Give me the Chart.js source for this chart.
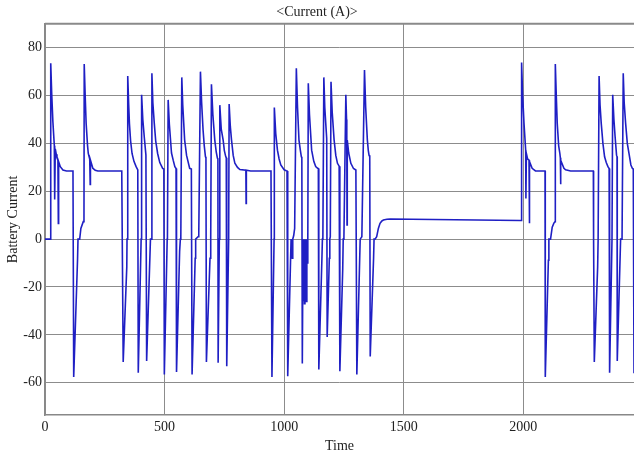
<!DOCTYPE html>
<html>
<head>
<meta charset="utf-8">
<script src="https://cdn.jsdelivr.net/npm/chart.js@4.4.1/dist/chart.umd.min.js"></script>
<style>
  html, body { margin: 0; padding: 0; background: #fff; }
  canvas { display: block; }
</style>
</head>
<body>
<canvas id="c" width="634" height="460"></canvas>
<script>
// ---- data ----
const chartTitle = '<Current (A)>';
const xTitle = 'Time';
const yTitle = 'Battery Current';
const xTicks = [0, 500, 1000, 1500, 2000];
const yTicks = [-60, -40, -20, 0, 20, 40, 60, 80];

// [time, current] samples
const batteryCurrent = [
  [0,0],[22,0],[24,73.5],[28,61],[33,49],[39,39],[40.5,16.6],[43,37.7],[47,35.5],[50,34],[54,33],[55.8,6.6],[57,32.4],[64,30.3],[75,28.9],[90,28.5],[117,28.5],
  [120,-57.6],[136,-8.8],[138,0],[145,0],[150,4.5],[160,7.3],[163,7.5],[164,73.2],[168,60],[172,48.4],[178,39],[181,35.8],[187,33.5],[189,22.9],[190,33],[200,29.6],[210,28.8],[221,28.5],[321,28.5],
  [323,1],[327,-51.3],[342,-11.6],[343,0],[346,68.2],[350,56],[353,48.4],[358,41],[364,35.8],[372,32.5],[381,30.3],[388,28.9],
  [390,-55.8],[402,0],[404,60.3],[409,50],[415,42.8],[422,35.1],
  [425,-50.9],[441,0],[444,0],[447,69.3],[451,57],[457,48.4],[463,41],[471,35.8],[480,32],[492,29.6],[497,29.3],
  [499,-56.6],[511,0],[512,1],[515,58.2],[520,48],[529,36],[536,33],[543,30.3],[548,29.5],
  [550,-55.5],[563,-5],[566,0],[568,1],[572,67.6],[576,56],[584,41.4],[592,35],[605,29.6],[612,29.3],
  [615,-56.6],[628,-8],[630,0],[640,1],[643,2],[650,70],[655,57],[661,45.6],[666,39],[671,34.4],[673,34],
  [675,-51.3],[690,-8],[692,0],[694,1],[696,64.7],[702,52],[710,41.4],[716,36.5],[721,33.8],[723,33.5],
  [724,-51.7],[729,0],[731,56],[737,46],[745,41.4],[750,37],[756,34.4],[758,34],
  [760,-53.1],[768,0],[770,56.5],[775,47],[780,41.4],[787,35],[794,31.7],[805,30],[815,29.1],[840,28.8],[841,14.9],[842,28.8],[860,28.5],[945,28.5],
  [949,-57.6],[958,0],[959,55],[965,44],[972,37.2],[979,33.5],[986,31],[1000,29],[1009,28.6],[1012,28.5],
  [1015,-57.3],[1029,0],[1034,-8],[1036,0],[1040,1.5],[1044,4.5],[1051,71.4],[1056,55],[1062,41.4],[1068,37],[1072,34.4],[1074,34],
  [1076,-52],[1079,0],[1081,-26],[1083,0],[1085,-27],[1087,0],[1089,-25],[1091,0],[1093,-26],[1095,0],[1097,-10],[1099,0],
  [1101,65.1],[1106,52],[1115,37.2],[1124,32.5],[1132,30.3],[1140,29.6],[1143,29.5],
  [1145,-54.5],[1158,-8],[1160,0],[1162,1],[1166,67.6],[1170,55],[1174,48.4],[1178,42],
  [1180,-40.9],[1189,-8],[1191,0],[1193,1],[1196,65.8],[1201,53],[1209,41.4],[1216,35],[1223,31.7],[1230,30.5],
  [1233,-55.2],[1245,-12.5],[1247,0],[1250,1],[1258,60.3],[1261,50],[1262,41.4],[1263,5.9],[1264,41.4],[1270,36],[1279,31.7],[1290,29.5],[1300,28.9],
  [1304,-56.6],[1316,-8],[1318,0],[1325,1],[1336,70.7],[1341,55],[1348,41.4],[1352,37],[1355,35.1],[1358,34.5],
  [1360,-49],[1374,-8],[1376,0],[1380,0],[1387,1],[1394,4.5],[1401,6.6],[1408,7.5],[1415,8],[1430,8.3],[1443,8.4],[1624,8.2],[1986,7.8],
  [1991,7.8],[1993,73.8],[1997,61],[2003,48.4],[2010,37.2],[2011,17],[2013,35.8],[2018,33.5],[2024,33],[2025,6.6],[2027,32.4],[2037,29.6],[2051,28.5],[2091,28.5],
  [2092,-57.6],[2105,-8.8],[2107,0],[2114,0],[2121,5],[2128,6.7],[2133,7.3],[2134,73.2],[2138,60],[2142,48.4],[2148,39],[2153,35.8],[2155,34],[2156,22.9],[2157,33],[2170,29.6],[2177,29],[2198,28.5],[2293,28.5],
  [2294,0.3],[2297,-51.3],[2311,-11.6],[2313,0],[2317,68.2],[2321,56],[2326,48.4],[2333,40],[2340,34.4],[2347,32],[2354,30.3],[2359,29.5],
  [2361,-55.8],[2371,0],[2374,60.3],[2379,50],[2384,42.8],[2390,35.1],[2392,34.5],
  [2393,-50.9],[2407,0],[2413,0],[2418,69.3],[2422,57],[2428,48.4],[2435,40],[2442,35.8],[2450,31],[2456,29.6],[2460,29.3],
  [2463,-56]
];

const xRange = [0, 2463];
const yRange = [-73.5, 90];

// ---- chart ----
const serif = "'Liberation Serif', 'DejaVu Serif', serif";
const gridColor = '#8c8c8c';

const topBorder = {
  id: 'topBorder',
  afterDraw(chart) {
    const {ctx, chartArea} = chart;
    ctx.save();
    ctx.strokeStyle = '#8a8a8a';
    ctx.lineWidth = 2;
    ctx.beginPath();
    ctx.moveTo(chartArea.left, chartArea.top);
    ctx.lineTo(chartArea.right, chartArea.top);
    ctx.stroke();
    ctx.restore();
  }
};

new Chart(document.getElementById('c'), {
  type: 'line',
  data: {
    datasets: [{
      data: batteryCurrent.map(p => ({x: p[0], y: p[1]})),
      borderColor: '#1f1fc4',
      borderWidth: 1.6,
      pointRadius: 0,
      tension: 0,
      fill: false
    }]
  },
  options: {
    responsive: false,
    animation: false,
    devicePixelRatio: 1,
    layout: { padding: 0 },
    plugins: {
      legend: { display: false },
      tooltip: { enabled: false },
      title: {
        display: true,
        text: chartTitle,
        color: '#222',
        font: { family: serif, size: 14, weight: 'normal' },
        padding: { top: 4, bottom: 3 }
      }
    },
    scales: {
      x: {
        type: 'linear',
        min: xRange[0],
        max: xRange[1],
        afterBuildTicks: s => { s.ticks = xTicks.map(v => ({value: v})); },
        afterFit: s => { s.height = 45; },
        grid: { color: gridColor, lineWidth: 1, drawTicks: false },
        border: { color: '#888', width: 1.5 },
        ticks: { color: '#222', font: { family: serif, size: 14 }, padding: 4, maxRotation: 0, autoSkip: false,
                 callback: v => String(v) },
        title: { display: true, text: xTitle, color: '#222', font: { family: serif, size: 14 }, padding: { top: 0, bottom: 5 } }
      },
      y: {
        type: 'linear',
        min: yRange[0],
        max: yRange[1],
        afterBuildTicks: s => { s.ticks = yTicks.map(v => ({value: v})); },
        afterFit: s => { s.width = 45; },
        grid: { color: gridColor, lineWidth: 1, drawTicks: false },
        border: { color: '#888', width: 1.5 },
        ticks: { color: '#222', font: { family: serif, size: 14 }, padding: 3, autoSkip: false,
                 callback: v => String(v) },
        title: { display: true, text: yTitle, color: '#222', font: { family: serif, size: 14 }, padding: { top: 5, bottom: 0 } }
      }
    }
  },
  plugins: [topBorder]
});
</script>
</body>
</html>
